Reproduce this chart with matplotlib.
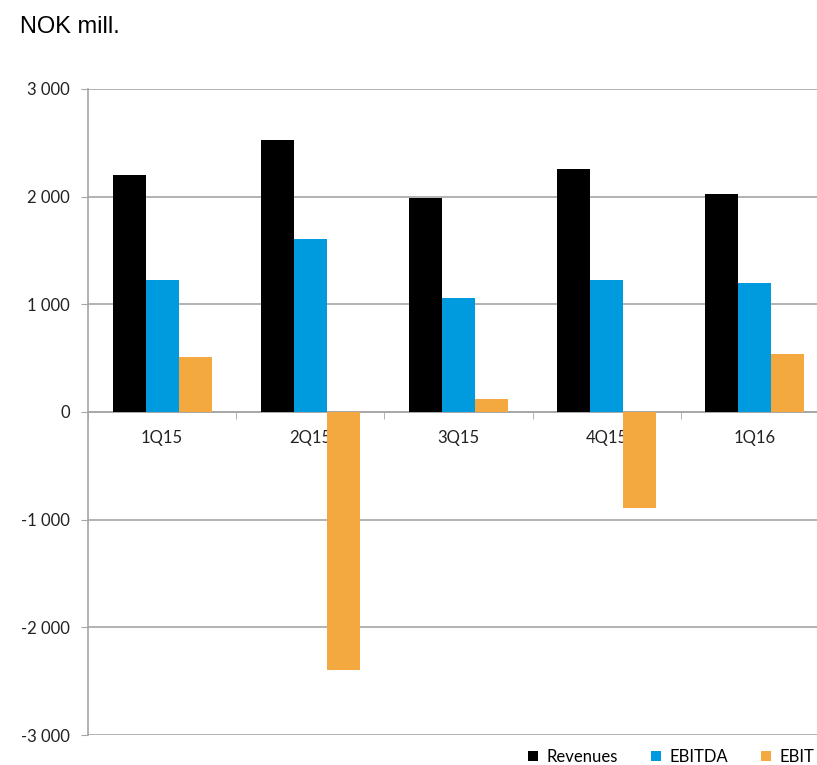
import numpy as np
import matplotlib.pyplot as plt
from matplotlib.ticker import FuncFormatter

quarters = ['1Q15', '2Q15', '3Q15', '4Q15', '1Q16']
revenues = [2205, 2523, 1985, 2258, 2029]
ebitda = [1222, 1608, 1058, 1222, 1200]
ebit = [507, -2396, 124, -890, 542]

series_names = ['Revenues', 'EBITDA', 'EBIT']
colors = ['#000000', '#009ADE', '#F4A940']

plt.rcParams['font.family'] = ['Lato', 'DejaVu Sans']

fig = plt.figure(figsize=(8.17, 7.65), dpi=100)
# plot area runs a little past the right edge of the figure, as in the source
ax = fig.add_axes([0.1077, 0.0392, 0.907, 0.8445])

x = np.arange(len(quarters))
w = 0.2226
for i, (vals, name, c) in enumerate(zip([revenues, ebitda, ebit], series_names, colors)):
    ax.bar(x + (i - 1) * w, vals, width=w, color=c, label=name, zorder=3)

ax.set_xlim(-0.5, len(quarters) - 0.5)
ax.set_ylim(-3000, 3000)
ax.set_yticks(np.arange(-3000, 3001, 1000))
ax.yaxis.set_major_formatter(FuncFormatter(lambda v, p: f'{int(v):,}'.replace(',', ' ')))
ax.grid(axis='y', color='#a6a6a6', linewidth=1.2, zorder=0)

for s in ['top', 'right']:
    ax.spines[s].set_visible(False)
ax.spines['left'].set_color('#a6a6a6')
ax.spines['bottom'].set_color('#a6a6a6')
ax.spines['bottom'].set_position(('data', 0))
ax.spines['left'].set_linewidth(1.2)
ax.spines['bottom'].set_linewidth(1.2)

ax.set_xticks(x)
ax.set_xticklabels(quarters)
ax.set_xticks(np.arange(-0.5, len(quarters), 1.0), minor=True)
ax.tick_params(axis='x', which='major', length=0, pad=13, labelsize=12, labelcolor='#222222')
ax.tick_params(axis='x', which='minor', length=5, color='#a6a6a6', direction='out')
ax.tick_params(axis='y', length=5, color='#a6a6a6', labelsize=12, labelcolor='#222222', pad=8)

fig.text(0.0245, 0.965, 'NOK mill.', fontsize=17, family=['Liberation Sans', 'DejaVu Sans'], va='center')

fig.legend(loc='center right', bbox_to_anchor=(0.997, 0.0105), ncol=3, frameon=False,
           fontsize=12, handlelength=0.6, handleheight=0.6, handletextpad=0.5,
           columnspacing=2.0, borderaxespad=0, borderpad=0)

fig.savefig('out.png', dpi=100)
